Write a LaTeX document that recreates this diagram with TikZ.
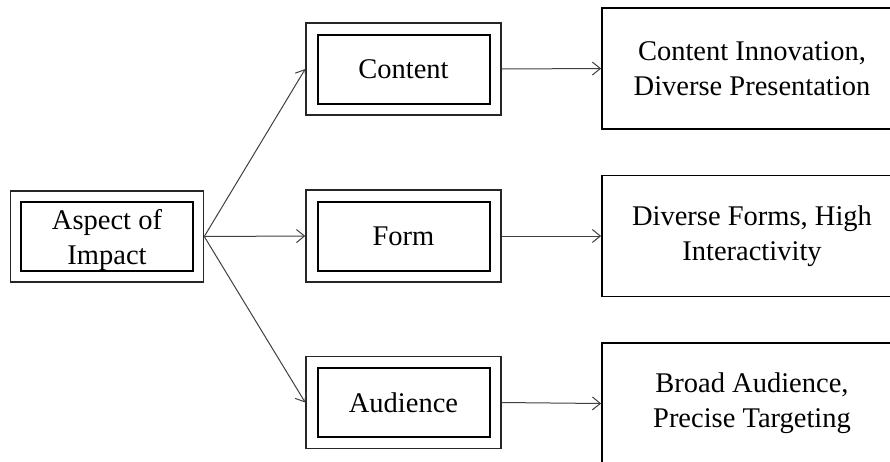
\documentclass[tikz,border=0pt]{standalone}
\usepackage{fontspec}
\setmainfont{Liberation Serif}
\usetikzlibrary{arrows.meta}
\tikzset{
    outerbox/.style={draw=black!85, line width=1.5pt, minimum width=195pt, minimum height=92pt, inner sep=0pt},
    innerbox/.style={draw=black, line width=2pt, minimum width=172pt, minimum height=69pt, align=center, inner sep=0pt, text depth=0pt},
    resultbox/.style={draw=black, line width=1.8pt, minimum width=300pt, minimum height=121pt, align=center, inner sep=0pt},
    link/.style={draw=black!75, line width=1pt, -{Straight Barb[length=8pt, width=13pt]}}
}
\begin{document}
\begin{tikzpicture}[x=1pt, y=-1pt, font=\fontsize{28.5}{35}\selectfont]
    \useasboundingbox (0,0) rectangle (890,461);
    \clip (0,0) rectangle (890,461);

    % Root
    \node[outerbox, minimum width=193pt, minimum height=91pt] (root) at (107,236.5) {};
    \node[innerbox] (root-in) at (root) {Aspect of\\Impact};

    % Aspects
    \node[outerbox] (content) at (403.5,69) {};
    \node[innerbox] (content-in) at (content) {Content};

    \node[outerbox] (form) at (403.5,236) {};
    \node[innerbox] (form-in) at (form) {Form};

    \node[outerbox] (audience) at (403.5,402.5) {};
    \node[innerbox] (audience-in) at (audience) {Audience};

    % Results
    \node[resultbox] (content-res) at (752,68.5) {Content Innovation,\\Diverse Presentation};
    \node[resultbox] (form-res) at (752,236) {Diverse Forms, High\\Interactivity};
    \node[resultbox] (audience-res) at (752,403.5) {Broad Audience,\\Precise Targeting};

    % Links
    \draw[link] (root.east) -- (content.west);
    \draw[link] (root.east) -- (form.west);
    \draw[link] (root.east) -- (audience.west);

    \draw[link] (content.east) -- (content-res.west);
    \draw[link] (form.east) -- (form-res.west);
    \draw[link] (audience.east) -- (audience-res.west);
\end{tikzpicture}
\end{document}
